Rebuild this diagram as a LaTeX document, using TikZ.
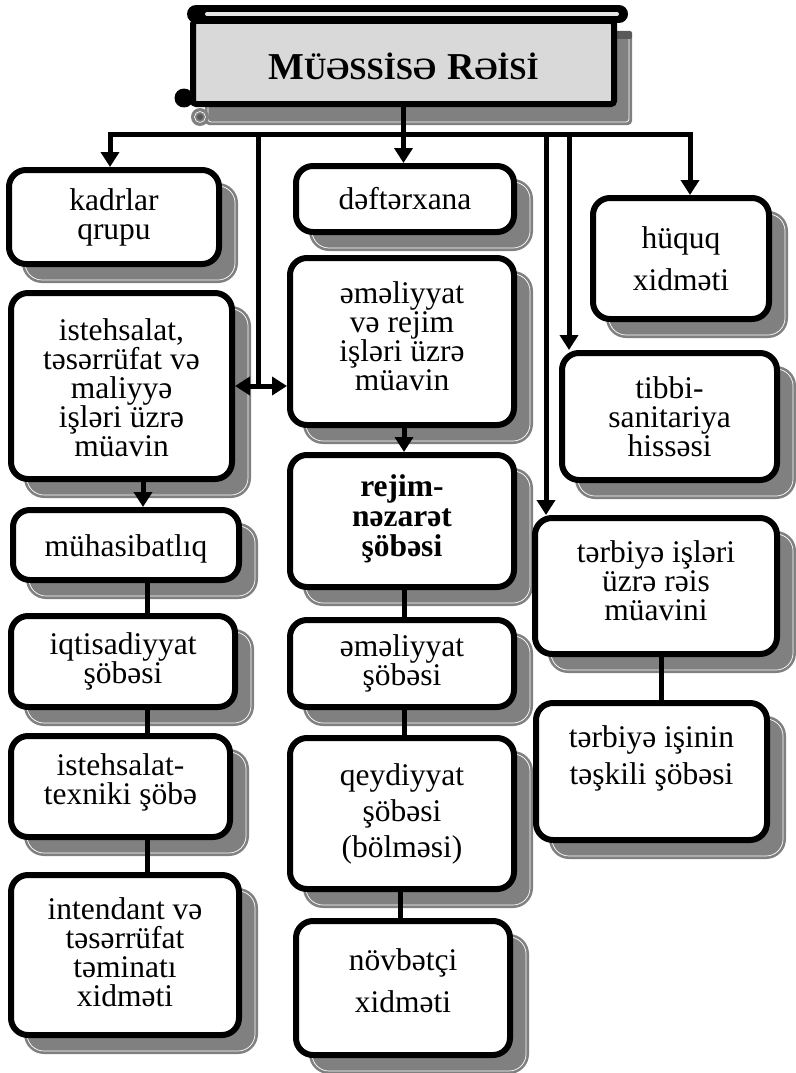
\documentclass[tikz,border=0pt]{standalone}
\usepackage{fontspec}
\setmainfont{Liberation Serif}
\usetikzlibrary{arrows.meta}
\definecolor{shadowgray}{HTML}{808080}
\definecolor{titlegray}{HTML}{D9D9D9}
\definecolor{curlgray}{HTML}{595959}
\definecolor{rolllight}{HTML}{E6E6E6}
\tikzset{
  orgbox/.style={draw=black, line width=6pt, fill=white, rounded corners=17pt, inner sep=0pt},
  boxtext/.style={align=center, inner sep=0pt, font=\fontsize{31.5}{29}\selectfont},
  conn/.style={line width=5pt, black},
  arr/.style={conn, -{Triangle[width=18pt,length=15pt]}},
  arrtwo/.style={conn, {Triangle[width=18pt,length=15pt]}-{Triangle[width=18pt,length=15pt]}},
}
\newcommand\obox[8]{%
  \fill[shadowgray, rounded corners=20pt] (#2+16,#3+16) rectangle (#4+16,#5+16);
  \draw[white, line width=0.7pt, rounded corners=17pt] (#2+19,#3+19) rectangle (#4+13,#5+13);
  \node[orgbox, minimum width={#4-#2-6}, minimum height={#5-#3-6}] (#1) at ({(#2+#4)/2},{(#3+#5)/2}) {};
  \node[boxtext, #7] (#1-t) at ({(#2+#4)/2},{(#3+#5)/2+(#6)}) {#8};
}
\begin{document}
\begin{tikzpicture}[x=1pt,y=-1pt]
\useasboundingbox (0,0) rectangle (795,1073);

% ---- title scroll ----
\fill[shadowgray, rounded corners=4pt] (205,33) rectangle (632,125);
\draw[white, line width=0.7pt, rounded corners=3pt] (208,36) rectangle (629,122);
\fill[curlgray, rounded corners=2pt] (614,31) rectangle (632,39);
\fill[shadowgray] (200,117) circle (9);
\draw[white, line width=0.6pt] (200,117) circle (5.5);
\fill[curlgray] (200,117) circle (3);
\node[draw=black, line width=6pt, fill=titlegray, rounded corners=3pt, inner sep=0pt,
      minimum width=421, minimum height=83, text height=35pt, text depth=0pt,
      font=\bfseries] (title) at (403.5,62.5)
  {{\fontsize{38}{40}\selectfont M}{\fontsize{31}{40}\selectfont ÜƏSSİSƏ}\hspace{11pt}{\fontsize{38}{40}\selectfont R}{\fontsize{31}{40}\selectfont ƏİSİ}};
\draw[black, line width=18pt, line cap=round] (196,14) -- (619,14);
\draw[rolllight, line width=4pt, line cap=round] (207,14) -- (617,14);
\fill[black] (184,98) circle (9.5);

% ---- boxes ----
\obox{kadr}{6}{167}{222}{267}{0}{}{kadrlar\\qrupu}
\obox{deft}{293}{163}{517}{235}{0}{}{dəftərxana}
\obox{huq}{590}{195}{772}{322}{0}{font=\fontsize{31.5}{42}\selectfont}{hüquq\\xidməti}
\obox{ist}{8}{290}{235}{482}{2}{}{istehsalat,\\təsərrüfat və\\maliyyə\\işləri üzrə\\müavin}
\obox{eme}{287}{255}{517}{428}{-5}{}{əməliyyat\\və rejim\\işləri üzrə\\müavin}
\obox{tib}{559}{350}{780}{483}{0}{}{tibbi-\\sanitariya\\hissəsi}
\obox{rej}{287}{452}{517}{590}{-2}{font=\bfseries\fontsize{31.5}{30}\selectfont}{rejim-\\nəzarət\\şöbəsi}
\obox{terA}{532}{515}{780}{657}{-5}{}{tərbiyə işləri\\üzrə rəis\\müavini}
\obox{muh}{10}{507}{242}{583}{4}{}{mühasibatlıq}
\obox{iqt}{8}{613}{238}{710}{0}{}{iqtisadiyyat\\şöbəsi}
\obox{ems}{287}{617}{517}{710}{0}{}{əməliyyat\\şöbəsi}
\obox{ieh}{8}{733}{233}{840}{-4}{}{istehsalat-\\texniki şöbə}
\obox{int}{8}{872}{242}{1038}{-3}{}{intendant və\\təsərrüfat\\təminatı\\xidməti}
\obox{qey}{287}{735}{517}{892}{0}{font=\fontsize{31.5}{36}\selectfont}{qeydiyyat\\şöbəsi\\(bölməsi)}
\obox{nov}{293}{918}{513}{1058}{-7}{font=\fontsize{31.5}{42}\selectfont}{növbətçi\\xidməti}
\obox{terB}{533}{700}{770}{843}{-13}{font=\fontsize{31.5}{37}\selectfont}{tərbiyə işinin\\təşkili şöbəsi}

% ---- connectors ----
\coordinate (busC) at (403,134);
\coordinate (busL) at (110,134);
\coordinate (busR) at (690,134);
\coordinate (busA) at (258,134);
\coordinate (busB) at (546,134);
\coordinate (busD) at (569,134);
\coordinate (colL) at (147,0);
\coordinate (colLa) at (143,0);
\coordinate (colM) at (404,0);
\coordinate (colMb) at (400,0);
\coordinate (colR) at (661,0);

\draw[arr] (title.south) -- (title.south |- deft.north);
\draw[arr] (busC) -- (busL) -- (busL |- kadr.north);
\draw[arr] (busC) -- (busR) -- (busR |- huq.north);
\draw[conn] (busA) -- (busA |- ist.east);
\draw[arrtwo] (ist.east) -- (ist.east -| eme.west);
\draw[arr] (busB) -- (busB |- terA.north);
\draw[arr] (busD) -- (busD |- tib.north);

\draw[arr] (colLa |- ist.south) -- (colLa |- muh.north);
\draw[conn] (colL |- muh.south) -- (colL |- iqt.north);
\draw[conn] (colL |- iqt.south) -- (colL |- ieh.north);
\draw[conn] (colL |- ieh.south) -- (colL |- int.north);

\draw[arr] (colM |- eme.south) -- (colM |- rej.north);
\draw[conn] (colM |- rej.south) -- (colM |- ems.north);
\draw[conn] (colM |- ems.south) -- (colM |- qey.north);
\draw[conn] (colMb |- qey.south) -- (colMb |- nov.north);

\draw[conn] (colR |- terA.south) -- (colR |- terB.north);
\end{tikzpicture}
\end{document}
